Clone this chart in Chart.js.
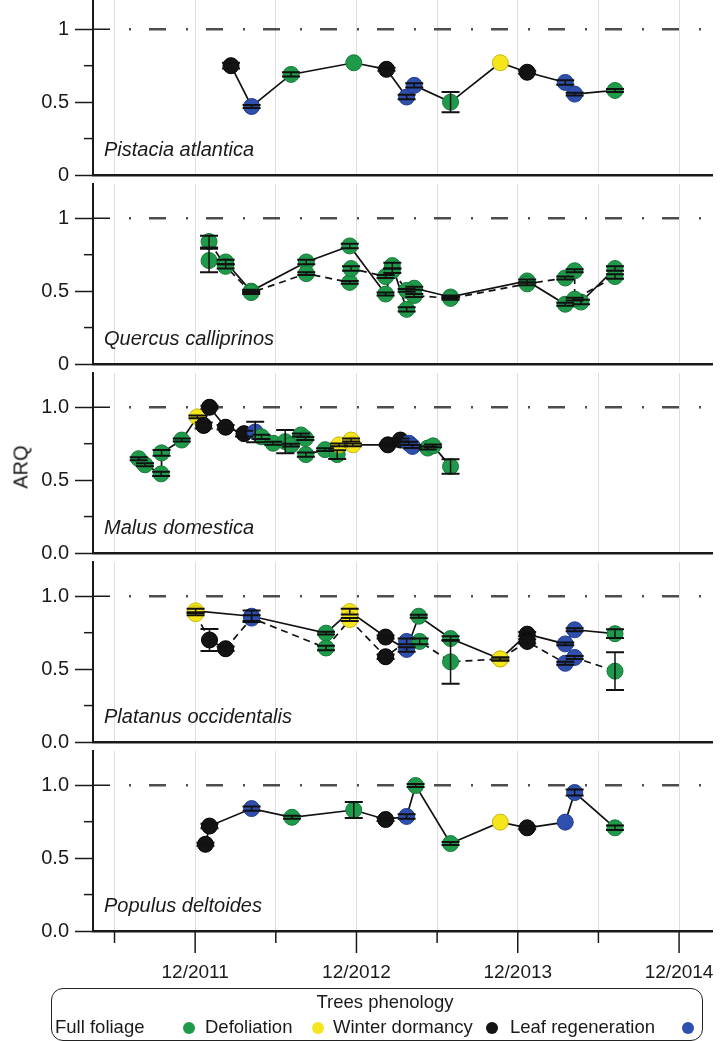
<!DOCTYPE html>
<html>
<head>
<meta charset="utf-8">
<script src="https://cdn.jsdelivr.net/npm/chart.js@4.4.1/dist/chart.umd.min.js"></script>
<style>
  html, body { margin: 0; padding: 0; background: #fff; }
  body { width: 721px; height: 1041px; position: relative; overflow: hidden;
         font-family: "Liberation Sans", Arial, sans-serif; color: #1a1a1a; }
  canvas.panel { position: absolute; left: 0; }
  #arq { position: absolute; left: 21px; top: 467px; font-size: 20px;
         transform: translate(-50%, -50%) rotate(-90deg); }
  #leyenda { position: absolute; left: 51px; top: 988px; width: 652px; height: 53px;
             box-sizing: border-box; border: 1.5px solid #222; border-radius: 12px; }
  #leyenda .titulo { position: absolute; left: 16px; right: 0; top: 2px; text-align: center; font-size: 18.5px; }
  #leyenda .texto { position: absolute; top: 27px; font-size: 18.5px; white-space: nowrap; }
  #leyenda .punto { position: absolute; top: 33px; width: 12px; height: 12px; border-radius: 50%; }
</style>
</head>
<body>
<div id="arq">ARQ</div>
<div id="leyenda">
  <div class="titulo">Trees phenology</div>
</div>
<script>
// Fenología: F = follaje completo, D = defoliación, W = latencia invernal, L = regeneración foliar
const fasesCodigo = ['F', 'D', 'W', 'L'];
const fasesNombre = ['Full foliage', 'Defoliation', 'Winter dormancy', 'Leaf regeneration'];
const fasesColor = ['#1f9a4b', '#f4e51c', '#141414', '#2f4fae'];
const fasesBorde = ['#167a3a', '#c8b810', '#000000', '#223c8c'];

// Pistacia atlantica
const fechasPistacia = ['2012-02-21','2012-04-07','2012-07-05','2012-11-25','2013-02-08','2013-03-23','2013-04-10','2013-07-01','2013-10-22','2013-12-22','2014-03-17','2014-04-08','2014-07-08'];
const arqPistacia = [0.75, 0.47, 0.69, 0.77, 0.725, 0.535, 0.615, 0.50, 0.77, 0.705, 0.635, 0.555, 0.58];
const errPistacia = [0.02, 0.01, 0.015, 0, 0.01, 0.015, 0.015, 0.07, 0, 0.01, 0.015, 0.01, 0.01];
const fasePistacia = ['W','L','F','F','W','L','L','F','D','W','L','L','F'];

// Quercus calliprinos (serie continua A y discontinua B)
const fechasQuercusA = ['2012-01-02','2012-02-09','2012-04-06','2012-08-09','2012-11-16','2013-02-06','2013-02-21','2013-03-23','2013-04-10','2013-07-01','2013-12-22','2014-03-17','2014-04-22','2014-07-08'];
const arqQuercusA = [0.71, 0.70, 0.50, 0.70, 0.81, 0.48, 0.675, 0.375, 0.52, 0.46, 0.57, 0.41, 0.425, 0.655];
const errQuercusA = [0.08, 0.015, 0.01, 0.015, 0.015, 0.01, 0.02, 0.015, 0.01, 0.01, 0.01, 0.01, 0.015, 0.015];
const faseQuercusA = ['F','F','F','F','F','F','F','F','F','F','F','F','F','F'];
const fechasQuercusB = ['2012-01-02','2012-02-09','2012-04-06','2012-08-09','2012-11-16','2012-11-19','2013-02-06','2013-02-21','2013-03-23','2013-04-10','2013-07-01','2013-12-22','2014-03-17','2014-04-08','2014-04-08','2014-07-08'];
const arqQuercusB = [0.84, 0.67, 0.49, 0.62, 0.56, 0.655, 0.60, 0.64, 0.505, 0.47, 0.45, 0.55, 0.59, 0.64, 0.445, 0.60];
const errQuercusB = [0.04, 0.015, 0.01, 0.01, 0.01, 0.015, 0.01, 0.015, 0.01, 0.01, 0.01, 0.01, 0.01, 0.01, 0.01, 0.015];
const faseQuercusB = ['F','F','F','F','F','F','F','F','F','F','F','F','F','F','F','F'];

// Malus domestica
const fechasMalus = ['2011-07-25','2011-08-09','2011-09-15','2011-09-16','2011-10-31','2011-12-06','2011-12-20','2012-01-03','2012-02-09','2012-03-20','2012-04-15','2012-04-29','2012-05-25','2012-06-22','2012-07-05','2012-07-27','2012-08-07','2012-08-08','2012-09-21','2012-10-18','2012-10-22','2012-11-19','2012-11-23','2013-02-11','2013-03-09','2013-03-28','2013-04-06','2013-05-10','2013-05-22','2013-07-01'];
const arqMalus = [0.647, 0.605, 0.543, 0.687, 0.775, 0.934, 0.875, 1.0, 0.863, 0.819, 0.83, 0.797, 0.753, 0.764, 0.74, 0.81, 0.786, 0.675, 0.709, 0.675, 0.742, 0.775, 0.742, 0.742, 0.775, 0.753, 0.731, 0.72, 0.735, 0.594];
const errMalus = [0.01, 0.01, 0.015, 0.02, 0.01, 0.01, 0.02, 0.01, 0.015, 0.02, 0.07, 0.015, 0.01, 0.08, 0.01, 0.01, 0.01, 0.015, 0.01, 0.03, 0.01, 0.01, 0.01, 0.01, 0.01, 0.01, 0.01, 0.01, 0.01, 0.05];
const faseMalus = ['F','F','F','F','F','D','W','W','W','W','L','F','F','F','F','F','F','F','F','F','D','D','D','W','W','L','L','F','F','F'];

// Platanus occidentalis (serie continua A y discontinua B)
const fechasPlatanusA = ['2011-12-02','2012-04-07','2012-09-23','2012-11-16','2013-02-06','2013-03-23','2013-04-20','2013-07-01','2013-10-22','2013-12-22','2014-03-17','2014-04-08','2014-07-08'];
const arqPlatanusA = [0.90, 0.863, 0.747, 0.895, 0.72, 0.635, 0.863, 0.71, 0.57, 0.74, 0.673, 0.77, 0.743];
const errPlatanusA = [0.015, 0.04, 0.01, 0.02, 0.01, 0.015, 0.01, 0.015, 0.01, 0.015, 0.01, 0.01, 0.03];
const fasePlatanusA = ['D','L','F','D','W','L','F','F','D','W','L','L','F'];
const fechasPlatanusB = ['2011-12-02','2012-01-03','2012-02-09','2012-04-07','2012-09-23','2012-11-16','2013-02-06','2013-03-23','2013-04-22','2013-07-01','2013-10-22','2013-12-22','2014-03-17','2014-04-08','2014-07-08'];
const arqPlatanusB = [0.88, 0.70, 0.64, 0.85, 0.645, 0.84, 0.585, 0.69, 0.69, 0.55, 0.57, 0.69, 0.54, 0.58, 0.486];
const errPlatanusB = [0.01, 0.075, 0.015, 0.02, 0.015, 0.01, 0.015, 0.02, 0.02, 0.15, 0.01, 0.015, 0.01, 0.01, 0.13];
const fasePlatanusB = ['D','W','W','L','F','D','W','L','F','F','D','W','L','L','F'];

// Populus deltoides
const fechasPopulus = ['2011-12-24','2012-01-03','2012-04-07','2012-07-07','2012-11-25','2013-02-06','2013-03-23','2013-04-13','2013-07-01','2013-10-22','2013-12-22','2014-03-17','2014-04-08','2014-07-08'];
const arqPopulus = [0.595, 0.72, 0.84, 0.78, 0.83, 0.765, 0.786, 0.998, 0.60, 0.747, 0.708, 0.747, 0.95, 0.708];
const errPopulus = [0.01, 0.015, 0.015, 0.01, 0.055, 0.01, 0.015, 0.01, 0.01, 0, 0.01, 0, 0.02, 0.015];
const fasePopulus = ['W','W','L','F','F','W','L','F','F','D','W','L','L','F'];

// Marcas del eje de tiempo (meses desde enero de 2011) y límites
const marcasMeses = [6, 12, 18, 24, 30, 36, 42, 48];
const mesMin = 4.4;
const mesMax = 50.45;

const paneles = [
  { nombre: 'Pistacia atlantica', decimales: false, series: [
    { fechas: fechasPistacia, arq: arqPistacia, err: errPistacia, fase: fasePistacia, discontinua: false }] },
  { nombre: 'Quercus calliprinos', decimales: false, series: [
    { fechas: fechasQuercusB, arq: arqQuercusB, err: errQuercusB, fase: faseQuercusB, discontinua: true },
    { fechas: fechasQuercusA, arq: arqQuercusA, err: errQuercusA, fase: faseQuercusA, discontinua: false }] },
  { nombre: 'Malus domestica', decimales: true, series: [
    { fechas: fechasMalus, arq: arqMalus, err: errMalus, fase: faseMalus, discontinua: false }] },
  { nombre: 'Platanus occidentalis', decimales: true, series: [
    { fechas: fechasPlatanusB, arq: arqPlatanusB, err: errPlatanusB, fase: fasePlatanusB, discontinua: true },
    { fechas: fechasPlatanusA, arq: arqPlatanusA, err: errPlatanusA, fase: fasePlatanusA, discontinua: false }] },
  { nombre: 'Populus deltoides', decimales: true, series: [
    { fechas: fechasPopulus, arq: arqPopulus, err: errPopulus, fase: fasePopulus, discontinua: false }] }
];

// Fecha 'AAAA-MM-DD' a meses (12 = diciembre de 2011)
function aMeses(fecha) {
  const [a, m, d] = fecha.split('-').map(Number);
  return (a - 2011) * 12 + m + (d - 1) / 30;
}

function etiquetaMes(v) {
  const anio = 2011 + Math.floor((v - 1) / 12);
  return (v - (anio - 2011) * 12) + '/' + anio;
}

const colorDe = c => fasesColor[fasesCodigo.indexOf(c)];
const bordeDe = c => fasesBorde[fasesCodigo.indexOf(c)];

Chart.defaults.font.family = '"Liberation Sans", Arial, sans-serif';
Chart.defaults.color = '#1a1a1a';

// Línea de referencia, marcas menores, barras de error y nombre de la especie
const marcas = {
  id: 'marcas',
  beforeDatasetsDraw(chart) {
    const { ctx, chartArea, scales: { y } } = chart;
    const y1 = y.getPixelForValue(1);
    ctx.save();
    ctx.strokeStyle = '#1a1a1a';
    ctx.lineWidth = 1.5;
    ctx.beginPath();
    ctx.moveTo(chartArea.left, y1);
    ctx.lineTo(chartArea.left + 17, y1);
    ctx.stroke();
    [0.25, 0.75].forEach(v => {
      const py = y.getPixelForValue(v);
      ctx.beginPath();
      ctx.moveTo(chartArea.left - 9, py);
      ctx.lineTo(chartArea.left, py);
      ctx.stroke();
    });
    ctx.strokeStyle = '#4d4d4d';
    ctx.lineWidth = 2.5;
    ctx.setLineDash([2, 18, 17, 20]);
    ctx.beginPath();
    ctx.moveTo(chartArea.left + 36, y1);
    ctx.lineTo(chartArea.right, y1);
    ctx.stroke();
    ctx.restore();
  },
  afterDatasetsDraw(chart) {
    const { ctx, scales: { y } } = chart;
    ctx.save();
    ctx.strokeStyle = '#111';
    chart.data.datasets.forEach((ds, i) => {
      const meta = chart.getDatasetMeta(i);
      ds.errores.forEach((e, k) => {
        if (!e) return;
        const px = meta.data[k].x;
        const arriba = y.getPixelForValue(ds.data[k].y + e);
        const abajo = y.getPixelForValue(ds.data[k].y - e);
        ctx.lineWidth = 1.5;
        ctx.beginPath();
        ctx.moveTo(px, arriba);
        ctx.lineTo(px, abajo);
        ctx.stroke();
        ctx.lineWidth = 2;
        ctx.beginPath();
        ctx.moveTo(px - 9, arriba); ctx.lineTo(px + 9, arriba);
        ctx.moveTo(px - 9, abajo); ctx.lineTo(px + 9, abajo);
        ctx.stroke();
      });
    });
    ctx.restore();
  },
  afterDraw(chart, args, opts) {
    const { ctx, chartArea, scales: { x } } = chart;
    ctx.save();
    ctx.font = 'italic 20px "Liberation Sans", Arial, sans-serif';
    ctx.fillStyle = '#1a1a1a';
    ctx.textBaseline = 'middle';
    ctx.fillText(opts.nombre, chartArea.left + 11, chartArea.bottom - 25);
    if (opts.ejeInferior) {
      ctx.strokeStyle = '#1a1a1a';
      ctx.lineWidth = 1.5;
      x.ticks.forEach(t => {
        const px = x.getPixelForValue(t.value);
        const largo = t.value % 12 === 0 ? 22 : 12;
        ctx.beginPath();
        ctx.moveTo(px, chartArea.bottom);
        ctx.lineTo(px, chartArea.bottom + largo);
        ctx.stroke();
      });
    }
    ctx.restore();
  }
};

const ALTO_PANEL = 189;

paneles.forEach((p, i) => {
  const ultimo = i === paneles.length - 1;
  const canvas = document.createElement('canvas');
  canvas.className = 'panel';
  canvas.width = 721;
  canvas.height = ALTO_PANEL + (ultimo ? 60 : 14);
  canvas.style.top = (i * ALTO_PANEL - 14) + 'px';
  document.body.insertBefore(canvas, document.getElementById('arq'));

  new Chart(canvas.getContext('2d'), {
    type: 'line',
    data: {
      datasets: p.series.map(s => ({
        data: s.fechas.map((f, k) => ({ x: aMeses(f), y: s.arq[k] })),
        errores: s.err,
        borderColor: '#111',
        borderWidth: 1.7,
        borderDash: s.discontinua ? [7, 5] : [],
        pointRadius: 8,
        pointHoverRadius: 8,
        pointBorderWidth: 1,
        pointBackgroundColor: s.fase.map(colorDe),
        pointBorderColor: s.fase.map(bordeDe),
        tension: 0,
        fill: false
      }))
    },
    options: {
      responsive: false,
      animation: false,
      devicePixelRatio: 1,
      events: [],
      layout: { padding: { left: 0, right: 4, top: 0, bottom: ultimo ? 0 : 14 } },
      plugins: {
        legend: { display: false },
        tooltip: { enabled: false },
        marcas: { nombre: p.nombre, ejeInferior: ultimo }
      },
      scales: {
        x: {
          type: 'linear',
          min: mesMin,
          max: mesMax,
          afterBuildTicks: s => { s.ticks = marcasMeses.map(v => ({ value: v })); },
          afterFit: s => { s.height = ultimo ? 60 : 0; s.paddingLeft = 0; s.paddingRight = 0; },
          grid: { color: '#dedede', lineWidth: 1, drawTicks: false },
          border: { display: true, color: '#1a1a1a', width: 2.5 },
          ticks: {
            display: ultimo,
            autoSkip: false,
            maxRotation: 0,
            padding: 30,
            font: { size: 19 },
            callback: v => v % 12 === 0 ? etiquetaMes(v) : ''
          }
        },
        y: {
          min: 0,
          max: 1.235,
          afterBuildTicks: s => { s.ticks = [0, 0.5, 1].map(v => ({ value: v })); },
          afterFit: s => { s.width = 93; s.paddingTop = 0; s.paddingBottom = 0; },
          grid: { display: true, drawOnChartArea: false, drawTicks: true, tickLength: 18, tickColor: '#1a1a1a', tickWidth: 1.5 },
          border: { display: true, color: '#1a1a1a', width: 2 },
          ticks: {
            padding: 6,
            font: { size: 20 },
            callback: v => p.decimales ? v.toFixed(1) : String(v)
          }
        }
      }
    },
    plugins: [marcas]
  });
});

// Fila de la leyenda: nombre de la fase seguido de su punto de color
const leyenda = document.getElementById('leyenda');
const xTexto = [3, 153, 281, 458];
const xPunto = [131, 260, 434, 630];
fasesNombre.forEach((nombre, k) => {
  const texto = document.createElement('span');
  texto.className = 'texto';
  texto.textContent = nombre;
  texto.style.left = xTexto[k] + 'px';
  const punto = document.createElement('span');
  punto.className = 'punto';
  punto.style.left = xPunto[k] + 'px';
  punto.style.background = fasesColor[k];
  leyenda.appendChild(texto);
  leyenda.appendChild(punto);
});
</script>
</body>
</html>
